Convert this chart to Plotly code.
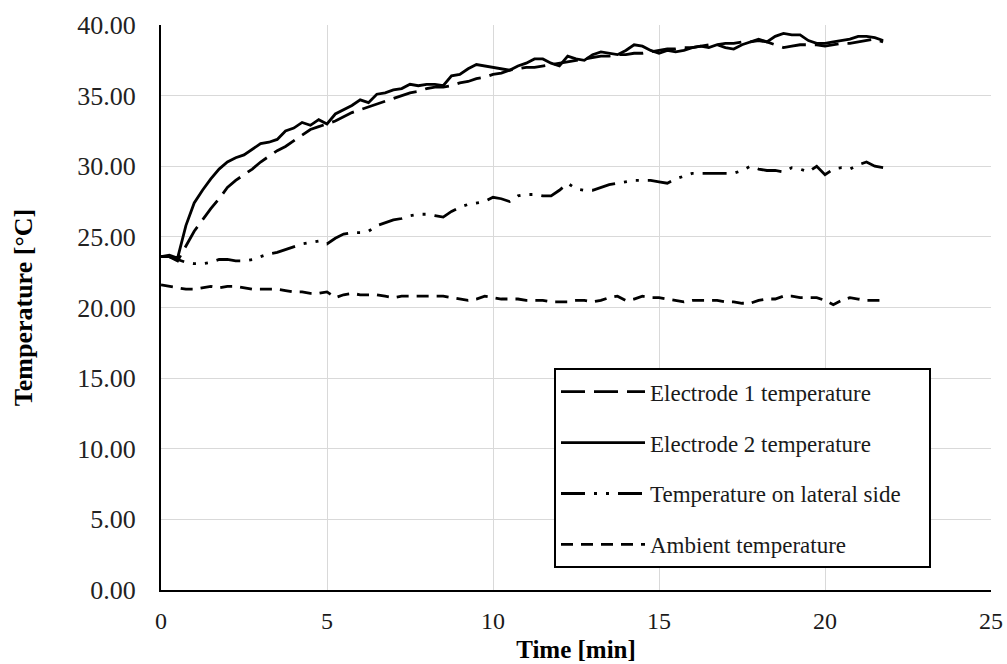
import plotly.graph_objects as go

# Sampling times [min]
time_min = [
    0.00, 0.25, 0.50, 0.75, 1.00, 1.25, 1.50, 1.75, 2.00, 2.25, 2.50, 2.75,
    3.00, 3.25, 3.50, 3.75, 4.00, 4.25, 4.50, 4.75, 5.00, 5.25, 5.50, 5.75,
    6.00, 6.25, 6.50, 6.75, 7.00, 7.25, 7.50, 7.75, 8.00, 8.25, 8.50, 8.75,
    9.00, 9.25, 9.50, 9.75, 10.00, 10.25, 10.50, 10.75, 11.00, 11.25, 11.50, 11.75,
    12.00, 12.25, 12.50, 12.75, 13.00, 13.25, 13.50, 13.75, 14.00, 14.25, 14.50, 14.75,
    15.00, 15.25, 15.50, 15.75, 16.00, 16.25, 16.50, 16.75, 17.00, 17.25, 17.50, 17.75,
    18.00, 18.25, 18.50, 18.75, 19.00, 19.25, 19.50, 19.75, 20.00, 20.25, 20.50, 20.75,
    21.00, 21.25, 21.50, 21.75,
]

electrode1_temp = [
    23.6, 23.6, 23.3, 24.4, 25.4, 26.2, 27.0, 27.7, 28.5, 29.0, 29.4, 29.8,
    30.3, 30.7, 31.1, 31.4, 31.8, 32.2, 32.6, 32.8, 33.0, 33.2, 33.5, 33.8,
    34.0, 34.2, 34.4, 34.6, 34.8, 35.0, 35.2, 35.3, 35.5, 35.6, 35.6, 35.7,
    35.9, 36.0, 36.2, 36.3, 36.5, 36.6, 36.8, 36.9, 37.0, 37.0, 37.1, 37.2,
    37.3, 37.4, 37.5, 37.6, 37.7, 37.8, 37.8, 37.9, 37.9, 38.0, 38.0, 38.1,
    38.2, 38.3, 38.3, 38.4, 38.4, 38.5, 38.6, 38.6, 38.7, 38.7, 38.8, 38.8,
    38.9, 38.8, 38.6, 38.4, 38.5, 38.6, 38.6, 38.6, 38.5, 38.6, 38.7, 38.7,
    38.8, 38.9, 39.0, 38.8,
]

electrode2_temp = [
    23.6, 23.7, 23.5, 25.8, 27.4, 28.3, 29.1, 29.8, 30.3, 30.6, 30.8, 31.2,
    31.6, 31.7, 31.9, 32.5, 32.7, 33.1, 32.9, 33.3, 33.0, 33.7, 34.0, 34.3,
    34.7, 34.5, 35.1, 35.2, 35.4, 35.5, 35.8, 35.7, 35.8, 35.8, 35.7, 36.4,
    36.5, 36.9, 37.2, 37.1, 37.0, 36.9, 36.8, 37.1, 37.3, 37.6, 37.6, 37.3,
    37.1, 37.8, 37.6, 37.5, 37.9, 38.1, 38.0, 37.9, 38.2, 38.6, 38.5, 38.2,
    38.0, 38.2, 38.1, 38.2, 38.4, 38.5, 38.4, 38.6, 38.4, 38.3, 38.6, 38.8,
    39.0, 38.8, 39.2, 39.4, 39.3, 39.3, 38.9, 38.7, 38.7, 38.8, 38.9, 39.0,
    39.2, 39.2, 39.1, 38.9,
]

lateral_temp = [
    23.6, 23.6, 23.4, 23.2, 23.1, 23.1, 23.2, 23.4, 23.4, 23.3, 23.3, 23.4,
    23.6, 23.8, 23.9, 24.1, 24.3, 24.5, 24.6, 24.7, 24.5, 24.9, 25.2, 25.3,
    25.3, 25.4, 25.8, 26.0, 26.2, 26.3, 26.5, 26.6, 26.6, 26.5, 26.4, 26.8,
    27.1, 27.3, 27.4, 27.5, 27.8, 27.7, 27.5, 27.9, 28.0, 28.0, 27.9, 27.9,
    28.3, 28.8, 28.4, 28.3, 28.3, 28.5, 28.7, 28.8, 28.9, 29.0, 29.0, 29.0,
    28.9, 28.8, 29.1, 29.3, 29.5, 29.5, 29.5, 29.5, 29.5, 29.5, 29.7, 30.0,
    29.8, 29.7, 29.7, 29.6, 29.9, 29.8, 29.6, 30.0, 29.4, 29.8, 29.9, 29.8,
    30.1, 30.3, 30.0, 29.9,
]

ambient_temp = [
    21.6, 21.5, 21.4, 21.3, 21.3, 21.4, 21.5, 21.4, 21.5, 21.5, 21.4, 21.3,
    21.3, 21.3, 21.3, 21.2, 21.1, 21.1, 21.0, 21.0, 21.1, 20.7, 20.9, 21.0,
    20.9, 20.9, 20.9, 20.8, 20.7, 20.8, 20.8, 20.8, 20.8, 20.8, 20.8, 20.7,
    20.6, 20.5, 20.6, 20.8, 20.7, 20.6, 20.6, 20.6, 20.5, 20.5, 20.5, 20.4,
    20.4, 20.4, 20.5, 20.5, 20.4, 20.5, 20.7, 20.8, 20.5, 20.6, 20.8, 20.7,
    20.7, 20.6, 20.5, 20.4, 20.5, 20.5, 20.5, 20.5, 20.4, 20.4, 20.3, 20.3,
    20.5, 20.6, 20.6, 20.8, 20.8, 20.7, 20.7, 20.7, 20.5, 20.2, 20.5, 20.7,
    20.6, 20.5, 20.5, 20.5,
]

series_names = [
    "Electrode 1 temperature",
    "Electrode 2 temperature",
    "Temperature on lateral side",
    "Ambient temperature",
]
series_values = [electrode1_temp, electrode2_temp, lateral_temp, ambient_temp]
series_dash = ["24px,9px", "solid", "24px,9px,3px,9px,3px,9px", "12px,8px"]

y_tick_values = [0, 5, 10, 15, 20, 25, 30, 35, 40]
y_tick_labels = ["0.00", "5.00", "10.00", "15.00", "20.00", "25.00", "30.00", "35.00", "40.00"]
x_tick_values = [0, 5, 10, 15, 20, 25]

FONT = "Liberation Serif, Times New Roman, serif"
PAD = "\u00a0" * 4  # right-hand breathing room inside the legend frame

fig = go.Figure()
for i, (name, vals, dash) in enumerate(zip(series_names, series_values, series_dash)):
    fig.add_trace(go.Scatter(
        x=time_min, y=vals, name=name + PAD if i == 2 else name, mode="lines",
        line=dict(color="black", width=2.8, dash=dash),
        legendgroup=f"g{i}",
    ))

fig.update_layout(
    width=1007, height=664,
    margin=dict(l=161, r=16, t=25, b=74),
    paper_bgcolor="white", plot_bgcolor="white",
    font=dict(family=FONT, color="black", size=20),
    showlegend=True,
    legend=dict(
        x=0.4735, y=0.3925, xanchor="left", yanchor="top",
        bordercolor="black", borderwidth=2, bgcolor="white",
        font=dict(family=FONT, size=23, color="#1a1a1a"),
        traceorder="grouped", tracegroupgap=18,
        itemwidth=84,
    ),
    xaxis=dict(
        range=[0, 25], tickvals=x_tick_values,
        showgrid=True, gridcolor="#d9d9d9", gridwidth=1,
        showline=True, linecolor="black", linewidth=2,
        zeroline=False, ticks="", automargin=False,
        ticklabelstandoff=8,
        tickfont=dict(family=FONT, size=24, color="#1a1a1a"),
        title=dict(text="<b>Time [min]</b>", font=dict(family=FONT, size=25), standoff=8),
    ),
    yaxis=dict(
        range=[0, 40], tickvals=y_tick_values, ticktext=y_tick_labels,
        showgrid=True, gridcolor="#d9d9d9", gridwidth=1,
        showline=True, linecolor="black", linewidth=2,
        zeroline=False, ticks="", automargin=False,
        ticklabelstandoff=18,
        tickfont=dict(family=FONT, size=26, color="#222222"),
        title=dict(text="<b>Temperature [°C]</b>", font=dict(family=FONT, size=26), standoff=37),
    ),
)

fig.write_html("out.html")
